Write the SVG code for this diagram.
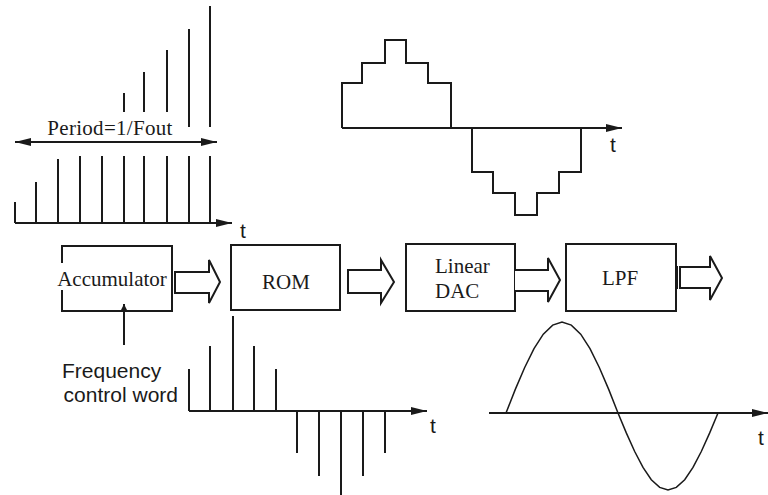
<svg xmlns="http://www.w3.org/2000/svg" width="768" height="495" viewBox="0 0 768 495">
<style>
.ln{stroke:#1a1a1a;stroke-width:2;fill:none}
.thin{stroke:#1a1a1a;stroke-width:1.5;fill:none}
.box{stroke:#1a1a1a;stroke-width:2;fill:#fff}
.harrow{stroke:#1a1a1a;stroke-width:2;fill:#fff;stroke-linejoin:miter}
.serif{font-family:"Liberation Serif","Times New Roman",serif;font-size:21px;fill:#1a1a1a}
.sans{font-family:"Liberation Sans",Arial,sans-serif;font-size:21px;fill:#1a1a1a}
</style>
<defs>
<marker id="ah" viewBox="0 0 16 8" refX="16" refY="4" markerWidth="16" markerHeight="8" markerUnits="userSpaceOnUse" orient="auto-start-reverse">
<path d="M0,0 L16,4 L0,8 z" fill="#1a1a1a"/>
</marker>
<marker id="ahs" viewBox="0 0 8 8" refX="8" refY="4" markerWidth="9" markerHeight="8" markerUnits="userSpaceOnUse" orient="auto">
<path d="M0,0 L8,4 L0,8 z" fill="#1a1a1a"/>
</marker>
</defs>
<rect width="768" height="495" fill="#fff"/>

<g id="ramp-samples">
<line class="ln" x1="15" y1="223" x2="232" y2="223" marker-end="url(#ah)"/>
<path class="ln" d="M15,223V202 M36,223V182 M58,223V159 M80,223V156 M102,223V156 M124,223V156 M144,223V156 M167,223V156 M189,223V156 M210,223V156"/>
<path class="ln" d="M124,112V93 M144,112V72 M167,112V50 M189,127V29 M210,127V6"/>
<line class="ln" x1="15" y1="142" x2="217" y2="142" marker-start="url(#ah)" marker-end="url(#ah)"/>
<text class="serif" x="110" y="135" text-anchor="middle" letter-spacing="0.3">Period=1/Fout</text>
<text class="sans" x="243" y="238" text-anchor="middle">t</text>
</g>

<g id="staircase">
<line class="ln" x1="342" y1="128" x2="622" y2="128" marker-end="url(#ah)"/>
<path class="ln" d="M342,128V83H362V63H385V40H406V63H428V83H451V128"/>
<path class="ln" d="M472,128V172H493V193H515V215H537V193H559V172H581V128"/>
<text class="sans" x="613" y="152" text-anchor="middle">t</text>
</g>

<g id="accumulator">
<path class="ln" d="M62,263V246H172V311H62V290"/>
<text class="serif" x="112" y="286" text-anchor="middle" font-size="20.5">Accumulator</text>
</g>
<g id="rom">
<rect class="box" x="231" y="245" width="109" height="65"/>
<text class="serif" x="286" y="289" text-anchor="middle">ROM</text>
</g>
<g id="dac">
<rect class="box" x="406" y="244" width="109" height="67"/>
<text class="serif" x="435" y="273">Linear</text>
<text class="serif" x="435" y="298">DAC</text>
</g>
<g id="lpf">
<rect class="box" x="566" y="244" width="110" height="67"/>
<text class="serif" x="620" y="285" text-anchor="middle">LPF</text>
</g>

<g id="connectors">
<polygon class="harrow" points="175,272 209,272 209,260 220,282 209,303 209,293 175,293"/>
<polygon class="harrow" points="348,270 381,270 381,260 394,282 381,303 381,293 348,293"/>
<polyline class="harrow" points="515,270 548,270 548,258 560,280 548,302 548,291 515,291"/>
<polygon class="harrow" points="680,267 710,267 710,256 722,278 710,300 710,288 680,288"/>
<line class="ln" x1="677" y1="266" x2="677" y2="289"/>
<line class="ln" x1="124" y1="345" x2="124" y2="304" marker-end="url(#ahs)"/>
</g>

<g id="freq-label">
<text class="sans" x="62" y="378">Frequency</text>
<text class="sans" x="178" y="402" text-anchor="end">control word</text>
</g>

<g id="rom-samples">
<line class="ln" x1="189" y1="411" x2="427" y2="411" marker-end="url(#ah)"/>
<path class="ln" d="M189,411V369 M210,411V346 M233,411V316 M254,411V346 M276,411V369 M297,411V453 M319,411V476 M341,411V495 M363,411V476 M385,411V453"/>
<text class="sans" x="433" y="433" text-anchor="middle">t</text>
</g>

<g id="sine-output">
<line class="ln" x1="489" y1="413" x2="768" y2="413" marker-end="url(#ah)"/>
<polyline class="thin" points="506,413 515.3,389.4 524.7,367.5 534,348.7 543.3,334.2 552.7,325.1 562,322 571.3,325.1 580.7,334.2 590,348.7 599.3,367.5 608.7,389.4 618,413 626.3,432.9 634.7,451.5 643,467.4 651.3,479.7 659.7,487.4 668,490 676.3,487.4 684.7,479.7 693,467.4 701.3,451.5 709.7,432.9 718,413"/>
<text class="sans" x="761" y="445" text-anchor="middle">t</text>
</g>
</svg>
